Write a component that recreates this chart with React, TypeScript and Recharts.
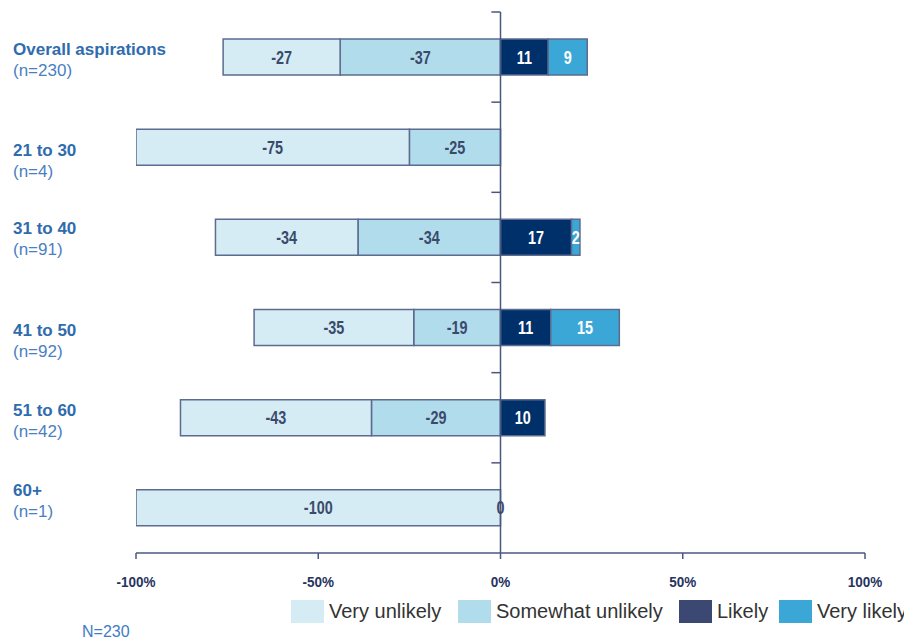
import React from 'react';
import { BarChart, Bar, XAxis, YAxis, ReferenceLine, ReferenceDot, LabelList } from 'recharts';

// ---------- data ----------
const CATEGORIES = ['Overall aspirations', '21 to 30', '31 to 40', '41 to 50', '51 to 60', '60+'];
const SAMPLE_SIZES = ['(n=230)', '(n=4)', '(n=91)', '(n=92)', '(n=42)', '(n=1)'];

// bar lengths as drawn (share of width, %)
const VERY_UNLIKELY = [-32.1, -75, -39.1, -43.8, -52.4, -100];
const SOMEWHAT_UNLIKELY = [-44.0, -25, -39.1, -23.8, -35.4, 0];
const LIKELY = [13.1, 0, 19.5, 13.8, 12.2, 0];
const VERY_LIKELY = [10.7, 0, 2.3, 18.8, 0, 0];

// value labels printed on the bars
const VERY_UNLIKELY_LABELS = ['-27', '-75', '-34', '-35', '-43', '-100'];
const SOMEWHAT_UNLIKELY_LABELS = ['-37', '-25', '-34', '-19', '-29', '0'];
const LIKELY_LABELS = ['11', '', '17', '11', '10', ''];
const VERY_LIKELY_LABELS = ['9', '', '2', '15', '', ''];

const X_TICKS = [-100, -50, 0, 50, 100];

const SERIES_NAMES = ['Very unlikely', 'Somewhat unlikely', 'Likely', 'Very likely'];

// ---------- styles ----------
const C_VU = '#d5ecf5';
const C_SU = '#b1dcec';
const C_L = '#00306a';
const C_VL = '#3ba7d7';
const LEGEND_COLORS = ['#d5ecf5', '#b1dcec', '#3a4872', '#3ba7d7'];
const STROKE = '#5c6b8f';
const AXIS = '#4a5780';
const DARK_LABEL = '#3b4a6b';
const LABEL_SHIFT = [-2, 9, -3, 8, -2, -12];
const SANS = '"Liberation Sans", Arial, sans-serif';
const LEGEND_X = [283, 450, 671, 771];

const data = CATEGORIES.map((name, i) => ({
  name,
  vu: VERY_UNLIKELY[i],
  su: SOMEWHAT_UNLIKELY[i],
  l: LIKELY[i],
  vl: VERY_LIKELY[i],
  vuLabel: VERY_UNLIKELY_LABELS[i],
  suLabel: SOMEWHAT_UNLIKELY_LABELS[i],
  lLabel: LIKELY_LABELS[i],
  vlLabel: VERY_LIKELY_LABELS[i],
}));

const NarrowText = ({ cx, cy, text, color }: { cx: number; cy: number; text: string; color: string }) => (
  <text
    transform={`translate(${cx},${cy + 6.5}) scale(0.8,1)`}
    x={0}
    y={0}
    textAnchor="middle"
    fill={color}
    fontFamily={SANS}
    fontWeight="bold"
    fontSize={18}
  >
    {text}
  </text>
);

const makeLabel = (color: string) => (props: any) => {
  const text = props.value;
  if (text === undefined || text === null || text === '') return null;
  const vb = props.viewBox && props.viewBox.x !== undefined ? props.viewBox : props;
  const x = Number(props.x ?? vb.x);
  const y = Number(props.y ?? vb.y);
  const w = Number(props.width ?? vb.width);
  const h = Number(props.height ?? vb.height);
  return <NarrowText cx={x + w / 2} cy={y + h / 2} text={String(text)} color={color} />;
};

const CatTick = (props: any) => {
  const { y, payload } = props;
  const i = payload.index;
  const base = Number(y) + LABEL_SHIFT[i];
  return (
    <g>
      <text x={5} y={base} fill="#2f6cae" fontFamily={SANS} fontWeight="bold" fontSize={17}>
        {payload.value}
      </text>
      <text x={5} y={base + 21} fill="#4a80c2" fontFamily={SANS} fontSize={17}>
        {SAMPLE_SIZES[i]}
      </text>
    </g>
  );
};

const XTick = (props: any) => {
  const { x, y, payload } = props;
  return (
    <text
      transform={`translate(${x},${Number(y) + 26}) scale(0.9,1)`}
      x={0}
      y={0}
      textAnchor="middle"
      fill="#26335e"
      fontFamily={SANS}
      fontWeight="bold"
      fontSize={15}
    >
      {`${payload.value}%`}
    </text>
  );
};

export default function App() {
  return (
    <div style={{ position: 'relative', width: 904, height: 633 }}>
      <style>{'html,body{overflow:hidden;}'}</style>
      <BarChart
        width={904}
        height={633}
        data={data}
        layout="vertical"
        stackOffset="sign"
        margin={{ top: 4, right: 47, bottom: 58, left: 4 }}
        barSize={36}
      >
        <XAxis
          type="number"
          domain={[-100, 100]}
          ticks={X_TICKS}
          allowDataOverflow
          stroke={AXIS}
          strokeWidth={1.5}
          tickSize={6}
          height={30}
          tick={<XTick />}
        />
        <YAxis
          yAxisId="cat"
          type="category"
          dataKey="name"
          width={124}
          axisLine={false}
          tickLine={false}
          tick={<CatTick />}
        />
        <Bar yAxisId="cat" dataKey="su" name={SERIES_NAMES[1]} stackId="a" fill={C_SU} stroke={STROKE} strokeWidth={1.5} isAnimationActive={false}>
          <LabelList dataKey="suLabel" content={makeLabel(DARK_LABEL)} />
        </Bar>
        <Bar yAxisId="cat" dataKey="vu" name={SERIES_NAMES[0]} stackId="a" fill={C_VU} stroke={STROKE} strokeWidth={1.5} isAnimationActive={false}>
          <LabelList dataKey="vuLabel" content={makeLabel(DARK_LABEL)} />
        </Bar>
        <Bar yAxisId="cat" dataKey="l" name={SERIES_NAMES[2]} stackId="a" fill={C_L} stroke={STROKE} strokeWidth={1.5} isAnimationActive={false}>
          <LabelList dataKey="lLabel" content={makeLabel('#ffffff')} />
        </Bar>
        <Bar yAxisId="cat" dataKey="vl" name={SERIES_NAMES[3]} stackId="a" fill={C_VL} stroke={STROKE} strokeWidth={1.5} isAnimationActive={false}>
          <LabelList dataKey="vlLabel" content={makeLabel('#ffffff')} />
        </Bar>
        <ReferenceLine yAxisId="cat" x={0} stroke={AXIS} strokeWidth={1.5} />
        {CATEGORIES.map((c) => (
          <ReferenceLine
            key={`b-${c}`}
            yAxisId="cat"
            position="start"
            segment={[{ x: -2.5, y: c }, { x: 0, y: c }]}
            stroke={AXIS}
            strokeWidth={1.5}
          />
        ))}
        {data
          .filter((d) => d.su === 0 && d.suLabel !== '')
          .map((d) => (
            <ReferenceDot
              key={`z-${d.name}`}
              yAxisId="cat"
              x={0}
              y={d.name}
              r={0.01}
              fill="none"
              stroke="none"
              label={{ content: makeLabel(DARK_LABEL), value: d.suLabel }}
            />
          ))}
      </BarChart>
      <svg width={904} height={633} style={{ position: 'absolute', left: 0, top: 0, pointerEvents: 'none' }}>
        {SERIES_NAMES.map((n, i) => (
          <g key={n}>
            <rect x={LEGEND_X[i]} y={592} width={33} height={23} fill={LEGEND_COLORS[i]} />
            <text x={LEGEND_X[i] + 38} y={610} fill="#333333" fontFamily={SANS} fontSize={20}>
              {n}
            </text>
          </g>
        ))}
        <text x={74} y={629} fill="#3d7cc4" fontFamily={SANS} fontSize={16}>
          N=230
        </text>
      </svg>
    </div>
  );
}
